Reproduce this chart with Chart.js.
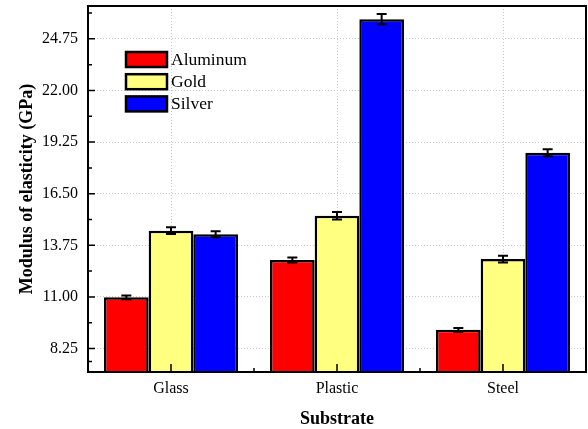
<!DOCTYPE html>
<html>
<head>
<meta charset="utf-8">
<script src="https://cdn.jsdelivr.net/npm/chart.js@4.4.0/dist/chart.umd.min.js"></script>
<style>
html,body{margin:0;padding:0;background:#fff;}
#wrap{width:588px;height:429px;position:relative;}
</style>
</head>
<body>
<div id="wrap"><canvas id="c" width="588" height="429"></canvas></div>
<script>
const categories = ["Glass", "Plastic", "Steel"];
const seriesNames = ["Aluminum", "Gold", "Silver"];
const aluminum = [10.98, 12.97, 9.25];
const gold = [14.53, 15.33, 13.02];
const silver = [14.34, 25.80, 18.68];
const aluminumErr = [0.10, 0.13, 0.10];
const goldErr = [0.18, 0.20, 0.18];
const silverErr = [0.16, 0.27, 0.19];
const yTicks = [8.25, 11.00, 13.75, 16.50, 19.25, 22.00, 24.75];
const yTickLabels = ["8.25", "11.00", "13.75", "16.50", "19.25", "22.00", "24.75"];
const yMinor = [7.5625, 9.625, 12.375, 15.125, 17.875, 20.625, 23.375, 26.125];
const colors = ["#ff0000", "#ffff80", "#0000ff"];

const values = [aluminum, gold, silver];
const errs = [aluminumErr, goldErr, silverErr];
const FONT = "'Liberation Serif', 'Times New Roman', serif";

const frame = {
  id: 'frame',
  afterDatasetsDraw(chart) {
    const ctx = chart.ctx, a = chart.chartArea;
    const ys = chart.scales.y, xs = chart.scales.x;
    ctx.save();
    // error bars
    ctx.strokeStyle = '#000';
    ctx.lineWidth = 2;
    chart.data.datasets.forEach((ds, di) => {
      const meta = chart.getDatasetMeta(di);
      meta.data.forEach((el, i) => {
        const v = ds.data[i], e = ds.err[i];
        const yt = ys.getPixelForValue(v + e), yb = ys.getPixelForValue(v - e);
        ctx.beginPath();
        ctx.moveTo(el.x, yt); ctx.lineTo(el.x, yb);
        ctx.moveTo(el.x - 5, yt); ctx.lineTo(el.x + 5, yt);
        ctx.moveTo(el.x - 5, yb); ctx.lineTo(el.x + 5, yb);
        ctx.stroke();
      });
    });
    // inward ticks
    ctx.lineWidth = 1.5;
    ctx.beginPath();
    yTicks.forEach(v => { const y = ys.getPixelForValue(v); ctx.moveTo(a.left, y); ctx.lineTo(a.left + 7, y); });
    yMinor.forEach(v => { const y = ys.getPixelForValue(v); ctx.moveTo(a.left, y); ctx.lineTo(a.left + 4, y); });
    categories.forEach((c, i) => {
      const x = xs.getPixelForValue(i);
      ctx.moveTo(x, a.bottom); ctx.lineTo(x, a.bottom - 8);
      if (i < categories.length - 1) {
        const xm = (x + xs.getPixelForValue(i + 1)) / 2;
        ctx.moveTo(xm, a.bottom); ctx.lineTo(xm, a.bottom - 4);
      }
    });
    ctx.stroke();
    // frame
    ctx.lineWidth = 2;
    ctx.strokeRect(a.left, a.top, a.right - a.left, a.bottom - a.top);
    // legend
    const bx = a.left + 38, by = a.top + 46;
    chart.data.datasets.forEach((ds, i) => {
      const y = by + i * 22.2;
      ctx.fillStyle = ds.backgroundColor;
      ctx.fillRect(bx, y, 41, 15);
      ctx.lineWidth = 2.5;
      ctx.strokeStyle = '#000';
      ctx.strokeRect(bx, y, 41, 15);
      ctx.fillStyle = '#000';
      ctx.font = "17.5px " + FONT;
      ctx.textBaseline = 'middle';
      ctx.textAlign = 'left';
      ctx.fillText(ds.label, bx + 45, y + 8);
    });
    ctx.restore();
  }
};

new Chart(document.getElementById('c'), {
  type: 'bar',
  data: {
    labels: categories,
    datasets: seriesNames.map((n, i) => ({
      label: n,
      data: values[i],
      err: errs[i],
      backgroundColor: colors[i],
      borderColor: '#000',
      borderWidth: 2.5,
      borderSkipped: false,
      categoryPercentage: 0.807,
      barPercentage: 1.0
    }))
  },
  options: {
    responsive: false,
    animation: false,
    layout: { padding: { left: 0, right: 2, top: 6, bottom: 0 } },
    plugins: { legend: { display: false }, tooltip: { enabled: false } },
    scales: {
      x: {
        grid: { offset: false, drawTicks: false, color: '#c8c8c8', lineWidth: 1 },
        border: { display: false, dash: [1, 2] },
        ticks: { color: '#000', font: { family: FONT, size: 16 }, padding: 7 },
        title: { display: true, text: 'Substrate', color: '#000', font: { family: FONT, size: 18, weight: 'bold' }, padding: { top: 0, bottom: -1 } },
        afterFit(s) { s.height = 57; s.paddingLeft = 0; s.paddingRight = 0; }
      },
      y: {
        min: 7, max: 26.5,
        afterBuildTicks(s) { s.ticks = yTicks.map(v => ({ value: v })); },
        grid: { drawTicks: false, color: '#c8c8c8', lineWidth: 1 },
        border: { display: false, dash: [1, 2] },
        ticks: {
          color: '#000', font: { family: FONT, size: 16 }, padding: 10,
          callback(v) { const k = yTicks.indexOf(v); return k >= 0 ? yTickLabels[k] : ''; }
        },
        title: { display: true, text: 'Modulus of elasticity (GPa)', color: '#000', font: { family: FONT, size: 18, weight: 'bold' }, padding: { top: 17, bottom: 0 } },
        afterFit(s) { s.width = 88; s.paddingTop = 0; s.paddingBottom = 0; }
      }
    }
  },
  plugins: [frame]
});
</script>
</body>
</html>
